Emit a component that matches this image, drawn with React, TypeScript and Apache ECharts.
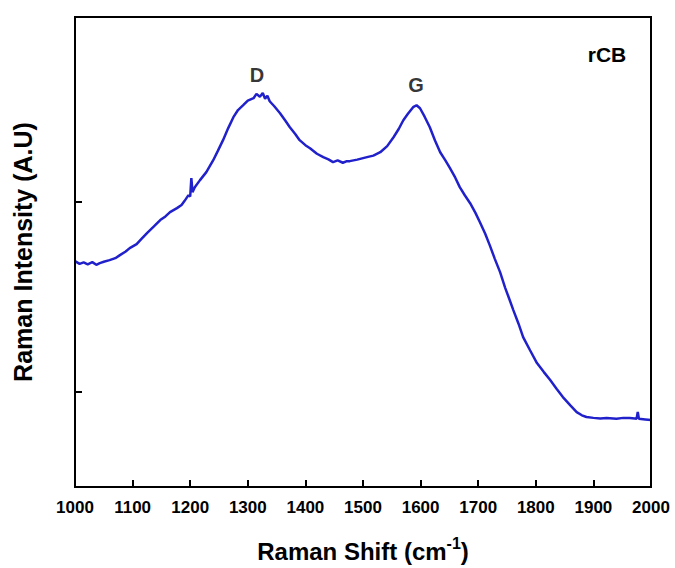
import React, { useEffect, useRef } from "react";
import * as echarts from "echarts";

const wavenumbers = [
  1000, 1008, 1015, 1022, 1030, 1037, 1043, 1050, 1060, 1070, 1078, 1088, 1095, 1107, 1115, 1125, 1137, 1148,
  1157, 1165, 1177, 1185, 1190, 1197, 1200, 1202, 1204, 1208, 1217, 1228, 1240, 1248, 1257, 1266, 1275, 1283,
  1292, 1300, 1310, 1315, 1321, 1326, 1330, 1334, 1338, 1346, 1356, 1365, 1373, 1382, 1390, 1400, 1408, 1420,
  1431, 1440, 1448, 1456, 1465, 1471, 1477, 1490, 1507, 1518, 1530, 1542, 1553, 1562, 1570, 1578, 1587, 1593,
  1599, 1607, 1616, 1625, 1634, 1643, 1651, 1660, 1668, 1677, 1686, 1695, 1703, 1712, 1720, 1729, 1738, 1747,
  1754, 1761, 1770, 1778, 1790, 1802, 1814, 1825, 1836, 1847, 1860, 1871, 1880, 1888, 1900, 1912, 1923, 1940,
  1952, 1963, 1972, 1975, 1977, 1979, 1990, 2000,
];
const intensity = [
  2379, 2350, 2365, 2345, 2368, 2340, 2358, 2372, 2389, 2410, 2442, 2480, 2516, 2558, 2610, 2674, 2745, 2811,
  2850, 2895, 2937, 2970, 3011, 3074, 3060, 3253, 3105, 3158, 3232, 3316, 3442, 3540, 3653, 3780, 3895, 3970,
  4021, 4070, 4095, 4140, 4110, 4150, 4090, 4120, 4063, 4010, 3937, 3860, 3789, 3720, 3653, 3600, 3568, 3510,
  3474, 3450, 3421, 3440, 3415, 3430, 3432, 3448, 3474, 3490, 3526, 3590, 3684, 3770, 3863, 3930, 4000, 4021,
  3989, 3900, 3789, 3650, 3526, 3440, 3358, 3260, 3158, 3070, 2989, 2890, 2789, 2670, 2547, 2400, 2263, 2095,
  1980, 1863, 1720, 1579, 1440, 1305, 1210, 1126, 1035, 947, 860, 789, 755, 737, 728, 722, 726, 720, 728, 726,
  722, 720, 789, 718, 712, 705,
];

const xTicks = [1000, 1100, 1200, 1300, 1400, 1500, 1600, 1700, 1800, 1900, 2000];
const yTicks = [1000, 3000];

const peakLabels = [
  { text: "D", x: 1316, y: 4337 },
  { text: "G", x: 1592, y: 4232 },
];

export default function App() {
  const ref = useRef<HTMLDivElement>(null);
  useEffect(() => {
    if (!ref.current) return;
    const chart = echarts.init(ref.current, null, { renderer: "svg" });
    const font = "'Liberation Sans', Arial, sans-serif";
    chart.setOption({
      animation: false,
      backgroundColor: "#ffffff",
      grid: {
        left: 75,
        right: 24,
        top: 17,
        bottom: 81,
        show: true,
        backgroundColor: "rgba(255,255,255,0)",
        borderColor: "#000000",
        borderWidth: 2,
      },
      xAxis: {
        type: "value",
        min: 1000,
        max: 2000,
        interval: 100,
        name: "{a|Raman Shift (cm}{s|-1}{a|)}",
        nameLocation: "middle",
        nameGap: 48,
        nameTextStyle: {
          rich: {
            a: { fontFamily: font, fontWeight: "bold", fontSize: 24, color: "#000", verticalAlign: "bottom" },
            s: { fontFamily: font, fontWeight: "bold", fontSize: 16, color: "#000", verticalAlign: "top", padding: [0, 0, 12, 0] },
          },
        },
        axisLine: { show: true, onZero: false, lineStyle: { color: "#000", width: 2 } },
        axisTick: { show: true, inside: true, length: 7, lineStyle: { color: "#000", width: 2 }, customValues: xTicks },
        axisLabel: {
          customValues: xTicks,
          formatter: (v: number) => String(v),
          fontFamily: font,
          fontWeight: "bold",
          fontSize: 17,
          color: "#000",
          margin: 12,
        },
        splitLine: { show: false },
      },
      yAxis: {
        type: "value",
        min: 0,
        max: 4950,
        name: "Raman Intensity (A.U)",
        nameLocation: "middle",
        nameGap: 40,
        nameTextStyle: { fontFamily: font, fontWeight: "bold", fontSize: 25, color: "#000" },
        axisLine: { show: true, onZero: false, lineStyle: { color: "#000", width: 2 } },
        axisTick: { show: true, inside: true, length: 7, lineStyle: { color: "#000", width: 2 }, customValues: yTicks },
        axisLabel: { show: false },
        splitLine: { show: false },
      },
      series: [
        {
          type: "line",
          data: wavenumbers.map((w, i) => [w, intensity[i]]),
          showSymbol: false,
          lineStyle: { color: "#2121cc", width: 2.5 },
          z: 3,
        },
        {
          type: "scatter",
          data: peakLabels.map((p) => [p.x, p.y]),
          symbolSize: 0,
          label: {
            show: true,
            position: "inside",
            formatter: (p: any) => peakLabels[p.dataIndex].text,
            fontFamily: font,
            fontWeight: "bold",
            fontSize: 20,
            color: "#000",
          },
          silent: true,
        },
      ],
      graphic: [
        {
          type: "text",
          x: 607,
          y: 54,
          style: {
            text: "rCB",
            fontFamily: font,
            fontWeight: "bold",
            fontSize: 21,
            fill: "#000",
            align: "center",
            verticalAlign: "middle",
          },
        },
      ],
    });
    return () => chart.dispose();
  }, []);
  return (
    <div style={{ position: "absolute", left: 0, top: 0, width: 675, height: 568 }}>
      <div ref={ref} style={{ width: 675, height: 568, position: "absolute", left: 0, top: 0 }} />
      <div
        style={{
          position: "absolute",
          left: 74,
          top: 16,
          width: 578,
          height: 472,
          boxSizing: "border-box",
          border: "2px solid #000",
          pointerEvents: "none",
        }}
      />
    </div>
  );
}
